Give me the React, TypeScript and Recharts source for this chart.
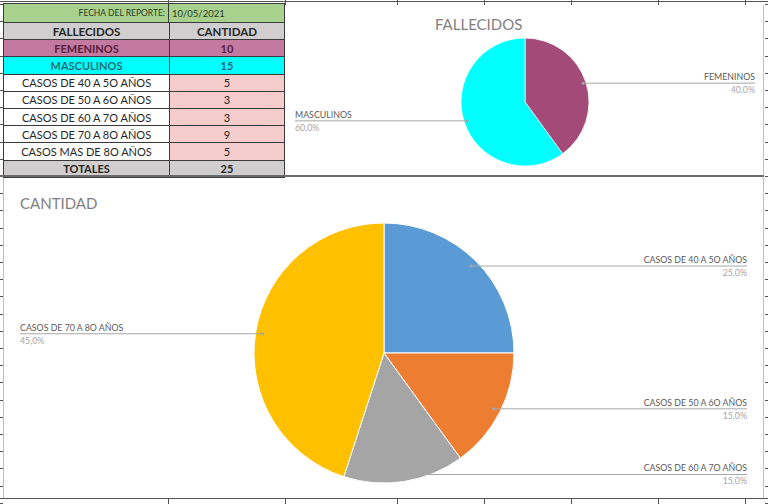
import React from 'react';
import { PieChart, Pie, Cell } from 'recharts';

const reportDate = '10/05/2021';
const sexCategories = ['FEMENINOS', 'MASCULINOS'];
const sexValues = [10, 15];
const ageCategories = [
  'CASOS DE 40 A 5O AÑOS',
  'CASOS DE 50 A 6O AÑOS',
  'CASOS DE 60 A 7O AÑOS',
  'CASOS DE 70 A 8O AÑOS',
  'CASOS MAS DE 8O AÑOS',
];
const ageValues = [5, 3, 3, 9, 5];
const totalValue = 25;

const sexColors = ['#a44a79', '#00ffff'];
const ageColors = ['#5b9bd5', '#ed7d31', '#a5a5a5', '#ffc000'];

const FONT = 'Lato, "Open Sans", sans-serif';
const RAD = Math.PI / 180;
const noMargin = { top: 0, right: 0, bottom: 0, left: 0 };

// sheet columns visible around the charts
const colLines = [168, 285, 397, 484, 571, 658, 745];

// leader line + two-line label, Excel style
const makeLabel = (leftX: number, rightX: number, inset: number) => (props: any) => {
  const { cx, cy, midAngle, outerRadius, percent } = props;
  const name = props.name ?? props.payload?.name;
  const r = outerRadius - inset;
  const ax = cx + r * Math.cos(-midAngle * RAD);
  const ay = cy + r * Math.sin(-midAngle * RAD);
  const right = Math.cos(-midAngle * RAD) > 0;
  const ex = right ? rightX : leftX;
  const pct = (percent * 100).toFixed(1).replace('.', ',') + '%';
  const anchor = right ? 'end' : 'start';
  return (
    <g>
      <line x1={ax} y1={ay} x2={ex} y2={ay} stroke="#a6a6a6" strokeWidth={1} />
      <circle cx={ax} cy={ay} r={1.5} fill="#a6a6a6" />
      <text x={ex} y={ay - 3} textAnchor={anchor} fontSize={8.8} fill="#595959" fontFamily={FONT}>{name}</text>
      <text x={ex} y={ay + 10} textAnchor={anchor} fontSize={8.8} fill="#a6a6a6" fontFamily={FONT}>{pct}</text>
    </g>
  );
};

const sexData = sexCategories.map((name, i) => ({ name, value: sexValues[i] }));
const ageData = ageCategories.slice(0, 4).map((name, i) => ({ name, value: ageValues[i] }));

const cellBorder = '1px solid #3a3a3a';

const Row: React.FC<{ left: React.ReactNode; right: React.ReactNode; h: number; bgL: string; bgR: string; color?: string; bold?: boolean; fs?: number }> = ({ left, right, h, bgL, bgR, color = '#262626', bold = false, fs = 11 }) => (
  <div style={{ display: 'flex', height: h, borderBottom: cellBorder, boxSizing: 'border-box', fontSize: fs, fontWeight: bold ? 700 : 400, color }}>
    <div style={{ width: 165, background: bgL, borderRight: cellBorder, display: 'flex', alignItems: 'center', justifyContent: 'center' }}>{left}</div>
    <div style={{ flex: 1, background: bgR, display: 'flex', alignItems: 'center', justifyContent: 'center' }}>{right}</div>
  </div>
);

const App: React.FC = () => {
  return (
    <div style={{ position: 'absolute', left: 0, top: 0, width: 768, height: 504, background: '#fff', overflow: 'hidden', fontFamily: FONT }}>
      {/* sheet gridlines peeking at the edges */}
      <div style={{ position: 'absolute', left: 0, top: 1, width: 768, height: 1, background: '#555' }} />
      <div style={{ position: 'absolute', left: 0, top: 498, width: 768, height: 1, background: '#555' }} />
      {colLines.map((x) => (
        <React.Fragment key={x}>
          <div style={{ position: 'absolute', left: x, top: 0, width: 1, height: 5, background: '#555' }} />
          <div style={{ position: 'absolute', left: x, top: 498, width: 1, height: 6, background: '#555' }} />
        </React.Fragment>
      ))}
      <div style={{ position: 'absolute', left: 0, top: 4, width: 3, height: 500, background: 'repeating-linear-gradient(to bottom, #555 0px, #555 1px, transparent 1px, transparent 17.2px)' }} />
      <div style={{ position: 'absolute', left: 765, top: 4, width: 3, height: 500, background: 'repeating-linear-gradient(to bottom, #555 0px, #555 1px, transparent 1px, transparent 17.2px)' }} />

      {/* data table */}
      <div style={{ position: 'absolute', left: 3, top: 3, width: 282, borderLeft: cellBorder, borderRight: cellBorder, borderTop: cellBorder, boxSizing: 'border-box' }}>
        <div style={{ display: 'flex', height: 19, borderBottom: cellBorder, boxSizing: 'border-box', background: '#a9d18e', color: '#2d3b22' }}>
          <div style={{ width: 165, borderRight: cellBorder, fontSize: 8.5, display: 'flex', alignItems: 'center', justifyContent: 'flex-end', paddingRight: 3, boxSizing: 'border-box' }}>FECHA DEL REPORTE:</div>
          <div style={{ flex: 1, fontSize: 9.5, display: 'flex', alignItems: 'center', paddingLeft: 3 }}>{reportDate}</div>
        </div>
        <Row left="FALLECIDOS" right="CANTIDAD" h={17.2} bgL="#d0cece" bgR="#d0cece" bold fs={11.5} />
        <Row left={sexCategories[0]} right={sexValues[0]} h={17.2} bgL="#c47aa0" bgR="#c47aa0" color="#5a1a3c" bold />
        <Row left={sexCategories[1]} right={sexValues[1]} h={17.2} bgL="#00ffff" bgR="#00ffff" color="#1f6f73" bold />
        {ageCategories.map((c, i) => (
          <Row key={c} left={c} right={ageValues[i]} h={17.2} bgL="#ffffff" bgR="#f4cccc" color="#262626" />
        ))}
        <Row left="TOTALES" right={totalValue} h={17.2} bgL="#d0cece" bgR="#d0cece" bold />
      </div>

      {/* top chart */}
      <div style={{ position: 'absolute', left: 285, top: 5, width: 479, height: 171, borderRight: '1px solid #bfbfbf', boxSizing: 'border-box', background: '#fff' }}>
        <div style={{ position: 'absolute', left: 150, top: 10, fontSize: 15, color: '#7f7f7f' }}>FALLECIDOS</div>
        <PieChart width={478} height={171} margin={noMargin} style={{ position: 'absolute', left: 0, top: 0 }}>
          <Pie
            data={sexData}
            dataKey="value"
            nameKey="name"
            cx={240}
            cy={97}
            outerRadius={64}
            startAngle={90}
            endAngle={-270}
            stroke="#ffffff"
            strokeWidth={0.75}
            labelLine={false}
            label={makeLabel(10, 470, 3)}
            isAnimationActive={false}
          >
            {sexData.map((d, i) => (
              <Cell key={d.name} fill={sexColors[i]} />
            ))}
          </Pie>
        </PieChart>
      </div>
      <div style={{ position: 'absolute', left: 0, top: 175, width: 764, height: 2, background: '#6b6b6b' }} />

      {/* bottom chart */}
      <div style={{ position: 'absolute', left: 3, top: 178, width: 761, height: 320, borderLeft: '1px solid #bfbfbf', borderRight: '1px solid #bfbfbf', boxSizing: 'border-box', background: '#fff' }}>
        <div style={{ position: 'absolute', left: 16, top: 16, fontSize: 15, color: '#7f7f7f' }}>CANTIDAD</div>
        <PieChart width={759} height={319} margin={noMargin} style={{ position: 'absolute', left: 0, top: 0 }}>
          <Pie
            data={ageData}
            dataKey="value"
            nameKey="name"
            cx={380}
            cy={175}
            outerRadius={130}
            startAngle={90}
            endAngle={-270}
            stroke="#ffffff"
            strokeWidth={1}
            labelLine={false}
            label={makeLabel(16, 743, 7)}
            isAnimationActive={false}
          >
            {ageData.map((d, i) => (
              <Cell key={d.name} fill={ageColors[i]} />
            ))}
          </Pie>
        </PieChart>
      </div>
    </div>
  );
};

export default App;
